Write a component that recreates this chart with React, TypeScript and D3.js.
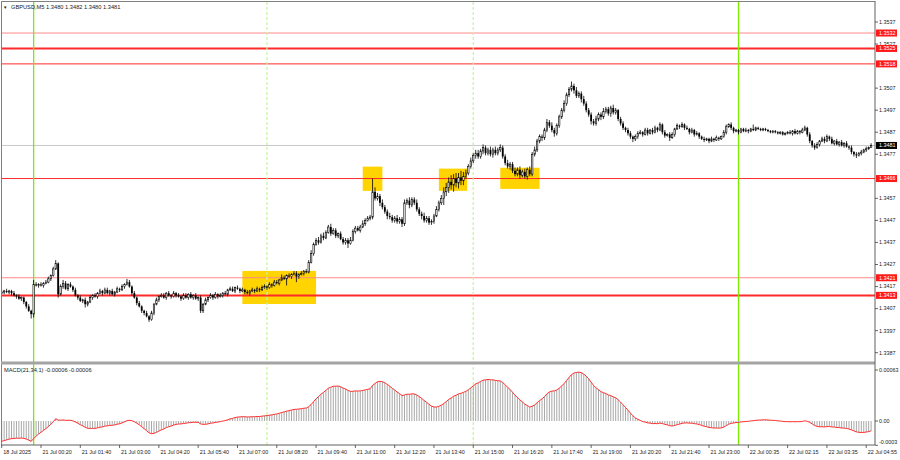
import React, { useEffect } from "react";
import * as d3 from "d3";

// GBPUSD M5 candles, values in pips above 1.3400
const BASE = 1.34;
const firstOpen = 14;
const closes = [
  14.5, 15, 14.5, 15, 14, 13, 12.5, 11.5, 12, 10,
  8, 6, 4.5, 18, 17.5, 18, 17.5, 18.5, 19, 20.5,
  22, 25, 27.5, 13.5, 17, 18.5, 16, 18, 17, 15.5,
  13, 12, 10.5, 11, 9, 10, 12, 13, 12.5, 14,
  15, 14, 15.5, 14, 15, 13.5, 14.5, 16, 15.5, 17,
  18, 19, 17, 14, 12, 9.5, 8, 6, 5, 3.5,
  2, 5, 9, 11, 12.5, 13, 12, 14, 13, 12.5,
  14, 13, 12.5, 11.5, 13, 12, 13.5, 12, 13, 11.5,
  12, 6, 9, 11, 12, 13, 12, 13.5, 12.5, 13,
  14, 13.5, 15.5, 16, 15, 16.5, 16, 15, 15.5, 14.5,
  14, 15, 15.5, 15, 16, 15.5, 16.5, 17, 16.5, 18,
  17.5, 19, 18.5, 20, 21, 20.5, 22, 21.5, 22.5, 23,
  21.5, 22.5, 23, 24, 23.5, 28, 32, 36, 38, 37,
  40, 39, 41.5, 44, 41, 42.5, 40, 41, 38.5, 37,
  38, 36.5, 38, 42, 43.5, 42.5, 44, 45.5, 47, 48,
  48.5, 60, 57, 58, 55, 53, 51, 49, 48.5, 47,
  48, 46.5, 47.5, 45.5, 55, 56, 54, 56.5, 55, 52,
  50, 49, 47, 48, 46, 46.5, 49, 52, 55, 57,
  60, 62, 64.5, 63, 66, 64, 66.5, 65, 67, 68.5,
  71.5, 74, 76.5, 77.5, 76, 78.5, 80, 77.5, 79, 77,
  79, 77.5, 79, 80, 76, 73, 71.5, 72.5, 69.5, 68,
  70, 67.5, 69, 67, 70, 68, 77, 79, 83, 85,
  84.5, 88, 91.5, 90, 88, 86.5, 90, 94, 97, 100,
  104, 106.5, 108, 106, 103.5, 104.5, 102, 100, 97, 95,
  92, 91, 93, 95, 94, 96.5, 97.5, 95.5, 98, 96,
  97, 93, 91, 89, 88, 86.5, 85, 84, 85, 86.5,
  87, 86, 88, 86.5, 88, 87, 89, 88, 90.5, 87,
  85.5, 86, 84.5, 86, 88.5, 90, 89.5, 90.5, 89, 88.5,
  87, 88, 86, 86.5, 85, 84, 83.5, 84, 83, 84,
  83.5, 84.5, 84, 85, 87, 89.5, 90.5, 89, 87.5, 88,
  87, 88.5, 87.5, 88, 87.5, 88.5, 88, 89, 88.5, 88,
  88.5, 88, 87.5, 87, 87.5, 87, 86.5, 87, 86, 86.5,
  87, 86.5, 87.5, 86.5, 87.5, 87, 88, 89, 86, 83,
  81, 80, 81.5, 83, 84, 83, 85, 84, 82, 83,
  81.5, 82.5, 81, 82, 80.5, 80, 78, 77, 76.5, 77.5,
  78, 79, 79.5, 80, 81,
];
const upWick = [
  1, 0.5, 1, 0.5, 0.5, 1, 0.5, 1, 0.5, 0.5,
  0.5, 1, 0.5, 2, 1, 0.5, 1, 0.5, 1, 1,
  0.5, 1, 1.5, 0.5, 1, 1.5, 1, 0.5, 1, 0.5,
  1, 0.5, 1, 0.5, 1, 0.5, 1, 0.5, 1, 0.5,
  1, 0.5, 1, 1, 0.5, 1, 0.5, 1, 0.5, 1,
  0.5, 1.5, 1, 0.5, 1, 0.5, 1, 0.5, 0.5, 1,
  0.5, 1, 0.5, 1, 0.5, 1, 1, 0.5, 1, 0.5,
  1, 0.5, 1, 0.5, 1, 1, 0.5, 1, 0.5, 1,
  0.5, 1, 0.5, 1, 0.5, 1, 0.5, 1, 0.5, 1,
  0.5, 1, 0.5, 1, 1, 0.5, 1, 0.5, 1, 0.5,
  1, 0.5, 1, 0.5, 1, 0.5, 1, 1, 0.5, 1,
  0.5, 1, 1, 0.5, 1.5, 1, 0.5, 1, 0.5, 1,
  1, 0.5, 1, 0.5, 1, 1, 1.5, 1, 1, 1.5,
  1, 1.5, 1, 1, 1.5, 1, 1, 0.5, 1, 1,
  1, 1, 1.5, 1, 1, 1, 1, 1.5, 1, 1,
  1, 6, 2, 1.5, 1, 1.5, 1, 1, 1.5, 1,
  1, 1.5, 1, 1, 1.5, 1, 1.5, 1, 1, 1.5,
  1, 1, 1.5, 1, 1, 1, 1, 1.5, 1, 1.5,
  2, 2, 2, 3, 2, 2.5, 2, 3, 2, 1.5,
  1, 1.5, 1, 1.5, 1.5, 1, 1.5, 1, 1, 1.5,
  1, 1.5, 1, 1.5, 1, 1, 1.5, 1, 1, 1.5,
  1, 1.5, 1, 1.5, 1, 1.5, 1, 1.5, 1, 1,
  1, 1, 1.5, 1, 1.5, 1, 1, 1, 1, 1.5,
  1, 1, 2, 1, 1.5, 1, 1, 1.5, 1, 1,
  1, 1, 1.5, 1, 1, 1.5, 1, 1, 1, 1.5,
  1, 0.5, 1, 1, 0.5, 1, 1, 0.5, 1, 1,
  1, 0.5, 1, 1, 0.5, 1, 1, 0.5, 1, 0.5,
  1, 0.5, 1, 1, 0.5, 1, 0.5, 1, 0.5, 1,
  0.5, 1, 0.5, 1, 0.5, 0.5, 1, 0.5, 0.5, 1,
  0.5, 1, 0.5, 0.5, 1, 1, 0.5, 1, 0.5, 0.5,
  0.5, 0.5, 0.5, 1, 0.5, 0.5, 2, 0.5, 0.5, 0.5,
  0.5, 0.5, 0.5, 0.5, 0.5, 0.5, 0.5, 0.5, 0.5, 0.5,
  0.5, 1, 0.5, 1, 0.5, 0.5, 1, 1, 0.5, 1,
  0.5, 1, 1, 0.5, 1, 1, 1, 0.5, 1, 0.5,
  1, 0.5, 1, 0.5, 1, 0.5, 1, 0.5, 1, 0.5,
  1, 0.5, 1, 0.5, 1,
];
const dnWick = [
  0.5, 1, 0.5, 1, 1, 0.5, 1, 0.5, 1, 1,
  1, 0.5, 2, 1.5, 0.5, 1, 0.5, 1, 0.5, 0.5,
  1, 0.5, 0.5, 1.5, 0.5, 1, 0.5, 1, 0.5, 1,
  0.5, 1, 0.5, 1, 1.5, 1, 0.5, 1, 0.5, 1,
  0.5, 1, 0.5, 0.5, 1, 0.5, 1, 0.5, 1, 0.5,
  1, 0.5, 0.5, 1, 0.5, 1, 0.5, 1, 1, 0.5,
  1, 0.5, 1, 0.5, 1, 0.5, 0.5, 1, 0.5, 1,
  0.5, 1, 0.5, 1, 0.5, 0.5, 1, 0.5, 1, 0.5,
  1, 1, 1, 0.5, 1, 0.5, 1, 0.5, 1, 0.5,
  1, 0.5, 1, 0.5, 0.5, 1, 0.5, 1, 0.5, 1,
  0.5, 1, 0.5, 1, 0.5, 1, 0.5, 0.5, 1, 0.5,
  1, 0.5, 0.5, 1, 0.5, 0.5, 3, 0.5, 1, 0.5,
  2.5, 1, 0.5, 1, 0.5, 0.5, 0.5, 1, 0.5, 1,
  0.5, 1, 0.5, 0.5, 1, 0.5, 1, 1, 0.5, 1,
  1, 2, 0.5, 0.5, 1, 0.5, 1, 0.5, 1, 0.5,
  1, 1, 1, 1, 1.5, 1, 1, 1.5, 1, 1,
  1, 1, 1, 1.5, 1, 1, 1.5, 1, 1, 1,
  1, 1.5, 1, 1, 1, 1, 1, 0.5, 1, 1,
  3, 2, 2.5, 2, 3, 2, 2.5, 2, 2, 1,
  1, 1, 1, 1.5, 1, 1, 1.5, 1, 1, 1,
  1.5, 1, 1, 1, 1, 1, 1, 1.5, 1, 1,
  1, 1.5, 1, 1, 1.5, 1, 1, 1, 1, 1,
  1.5, 1, 1, 1, 1, 1.5, 1, 1, 1, 1,
  1, 1, 1, 1.5, 1, 1, 1.5, 1, 1, 1,
  1.5, 1, 1, 1, 1.5, 1, 1, 1, 1.5, 1,
  1, 1, 1, 1, 1, 1, 1, 1.5, 1, 1,
  0.5, 1, 0.5, 1, 0.5, 1, 0.5, 1, 0.5, 1,
  1, 0.5, 1.5, 0.5, 1, 0.5, 1, 0.5, 1, 0.5,
  1, 0.5, 1, 0.5, 1, 0.5, 1, 0.5, 1, 0.5,
  1, 0.5, 1, 0.5, 0.5, 1, 0.5, 1, 1, 0.5,
  1, 0.5, 0.5, 0.5, 1, 0.5, 0.5, 0.5, 0.5, 0.5,
  0.5, 0.5, 0.5, 0.5, 0.5, 0.5, 0.5, 0.5, 0.5, 0.5,
  0.5, 0.5, 1, 0.5, 0.5, 1, 0.5, 0.5, 1, 1,
  1, 1, 0.5, 1, 0.5, 1, 0.5, 1, 0.5, 1,
  0.5, 1, 0.5, 1, 0.5, 1, 1, 1, 1.2, 0.5,
  1, 0.5, 1, 0.5, 0,
];
// EMA state (pips above BASE) carried in from before the first visible bar
const emaSeed = { fast: 16.5, slow: 19.1 };

const priceTicks = [1.3537, 1.3527, 1.3507, 1.3497, 1.3487, 1.3477, 1.3457, 1.3447, 1.3437, 1.3427, 1.3417, 1.3407, 1.3397, 1.3387];
const levelPrices = [1.3532, 1.3525, 1.3518, 1.3466, 1.3421, 1.3413];
const bidPrice = 1.3481;
// [startBar, endBar, lowPrice, highPrice]
const zones = [
  [98, 128, 1.34091, 1.34241],
  [147, 155, 1.34604, 1.34714],
  [178, 189.5, 1.34604, 1.34705],
  [203, 219, 1.34613, 1.34709],
];
const daySeparators = [13, 300];
const sessionLines = [108, 192];
const timeTickBars = [0, 16, 32, 48, 64, 80, 96, 112, 128, 144, 160, 176, 192, 208, 224, 240, 256, 272, 288, 304, 320, 336, 352];
const timeTickLabels = [
  "18 Jul 2025", "21 Jul 00:20", "21 Jul 01:40", "21 Jul 03:00", "21 Jul 04:20", "21 Jul 05:40",
  "21 Jul 07:00", "21 Jul 08:20", "21 Jul 09:40", "21 Jul 11:00", "21 Jul 12:20", "21 Jul 13:40",
  "21 Jul 15:00", "21 Jul 16:20", "21 Jul 17:40", "21 Jul 19:00", "21 Jul 20:20", "21 Jul 21:40",
  "21 Jul 23:00", "22 Jul 00:35", "22 Jul 02:15", "22 Jul 03:35", "22 Jul 04:55",
];
const macdTicks = [0.00063, 0.0, -0.0003];
const macdTickLabels = ["0.00063", "0.00", "-0.0003"];

const FONT = "'Liberation Sans', Arial, sans-serif";
const AXIS_X = 875;
const MAIN_BOTTOM = 361.5;
const MACD_TOP = 364.5;
const MACD_BOTTOM = 445;

const App: React.FC = () => {
  useEffect(() => {
    document.body.style.margin = "0";
  }, []);

  const n = closes.length;
  const x = d3.scaleLinear().domain([0, n - 1]).range([1.7, 1.7 + (n - 1) * 2.456]);
  const y = d3.scaleLinear().domain([1.3387, 1.3537]).range([352.7, 22]);
  const my = d3.scaleLinear().domain([0, 0.00063]).range([421, 370]);

  const candles = closes.map((c, i) => {
    const o = i === 0 ? firstOpen : closes[i - 1];
    return {
      i,
      o: BASE + o / 1e4,
      c: BASE + c / 1e4,
      h: BASE + (Math.max(o, c) + upWick[i]) / 1e4,
      l: BASE + (Math.min(o, c) - dnWick[i]) / 1e4,
    };
  });

  const macd: number[] = [];
  let fast = BASE + emaSeed.fast / 1e4;
  let slow = BASE + emaSeed.slow / 1e4;
  closes.forEach((c) => {
    const p = BASE + c / 1e4;
    fast += (p - fast) * (2 / 22);
    slow += (p - slow) * (2 / 35);
    macd.push(fast - slow);
  });

  const macdLine = d3
    .line<number>()
    .x((_, i) => x(i))
    .y((d) => my(d));

  const levelWidth = (p: number) => (p === 1.3525 || p === 1.3413 ? 2 : 1);
  const levelColor = (p: number) => (p === 1.3532 || p === 1.3421 ? "#ff8a8a" : "#ff2a2a");

  return (
    <svg
      width={900}
      height={460}
      style={{ position: "absolute", left: 0, top: 0, background: "#fff", fontFamily: FONT }}
    >
      <defs>
        <clipPath id="main">
          <rect x={2} y={2} width={AXIS_X - 2} height={MAIN_BOTTOM - 2} />
        </clipPath>
        <clipPath id="sub">
          <rect x={2} y={MACD_TOP} width={AXIS_X - 2} height={MACD_BOTTOM - MACD_TOP} />
        </clipPath>
      </defs>

      <g clipPath="url(#main)">
        {zones.map((z, k) => (
          <rect
            key={k}
            x={x(z[0])}
            y={y(z[3])}
            width={x(z[1]) - x(z[0])}
            height={y(z[2]) - y(z[3])}
            fill="#ffd400"
          />
        ))}
        <line x1={0} x2={AXIS_X} y1={y(bidPrice)} y2={y(bidPrice)} stroke="#c8c8c8" strokeWidth={1} />
        {levelPrices.map((p) => (
          <line
            key={p}
            x1={0}
            x2={AXIS_X}
            y1={y(p)}
            y2={y(p)}
            stroke={levelColor(p)}
            strokeWidth={levelWidth(p)}
          />
        ))}
      </g>

      {sessionLines.map((b) => (
        <line key={b} x1={x(b)} x2={x(b)} y1={2} y2={MACD_BOTTOM} stroke="#c6f59a" strokeWidth={1.2} strokeDasharray="3,2" />
      ))}
      {daySeparators.map((b) => (
        <line key={b} x1={x(b)} x2={x(b)} y1={2} y2={MACD_BOTTOM} stroke="#7cec00" strokeWidth={1.3} />
      ))}

      <g clipPath="url(#main)">
        {candles.map((d) => {
          const up = d.c >= d.o;
          const top = y(Math.max(d.o, d.c));
          const h = Math.max(0.8, y(Math.min(d.o, d.c)) - top);
          return (
            <g key={d.i}>
              <line x1={x(d.i)} x2={x(d.i)} y1={y(d.h)} y2={y(d.l)} stroke="#000" strokeWidth={0.8} />
              {up ? (
                <rect x={x(d.i) - 0.7} y={top} width={1.4} height={h} fill="#fff" stroke="#000" strokeWidth={0.6} />
              ) : (
                <rect x={x(d.i) - 0.9} y={top} width={1.8} height={h} fill="#000" />
              )}
            </g>
          );
        })}
      </g>

      {/* MACD window */}
      <g clipPath="url(#sub)">
        {macd.map((v, i) => (
          <line key={i} x1={x(i)} x2={x(i)} y1={my(0)} y2={my(v)} stroke="#a8a8a8" strokeWidth={1} />
        ))}
        <path d={macdLine(macd) || ""} fill="none" stroke="#ff3030" strokeWidth={1} />
      </g>

      {/* frames */}
      <line x1={1.5} x2={1.5} y1={1} y2={MACD_BOTTOM} stroke="#808080" strokeWidth={1} />
      <line x1={1} x2={AXIS_X} y1={1.5} y2={1.5} stroke="#808080" strokeWidth={1} />
      <rect x={1} y={MAIN_BOTTOM} width={AXIS_X - 1} height={MACD_TOP - MAIN_BOTTOM} fill="#a4a4a4" />
      <line x1={AXIS_X} x2={AXIS_X} y1={1} y2={MACD_BOTTOM} stroke="#606060" strokeWidth={1} />
      <line x1={1} x2={AXIS_X} y1={MACD_BOTTOM} y2={MACD_BOTTOM} stroke="#606060" strokeWidth={1} />

      {/* price axis */}
      {priceTicks.map((p) => (
        <g key={p}>
          <line x1={AXIS_X} x2={AXIS_X + 3} y1={y(p)} y2={y(p)} stroke="#404040" strokeWidth={0.8} />
          <text x={AXIS_X + 4} y={y(p)} dy="0.35em" fontSize={5.4} fill="#202020">
            {p.toFixed(4)}
          </text>
        </g>
      ))}
      {levelPrices.map((p) => (
        <g key={p}>
          <rect x={AXIS_X + 1} y={y(p) - 3.5} width={21} height={7} fill="#ff1a1a" />
          <text x={AXIS_X + 4} y={y(p)} dy="0.35em" fontSize={5.4} fill="#fff">
            {p.toFixed(4)}
          </text>
        </g>
      ))}
      <rect x={AXIS_X + 1} y={y(bidPrice) - 3.5} width={21} height={7} fill="#000" />
      <text x={AXIS_X + 4} y={y(bidPrice)} dy="0.35em" fontSize={5.4} fill="#fff">
        {bidPrice.toFixed(4)}
      </text>

      {/* MACD axis */}
      {macdTicks.map((v, k) => (
        <g key={k}>
          <line x1={AXIS_X} x2={AXIS_X + 3} y1={my(v)} y2={my(v)} stroke="#404040" strokeWidth={0.8} />
          <text x={AXIS_X + 4} y={Math.min(my(v), 442)} dy="0.35em" fontSize={5.4} fill="#202020">
            {macdTickLabels[k]}
          </text>
        </g>
      ))}

      {/* time axis */}
      {timeTickBars.map((b, k) => (
        <g key={b}>
          <line x1={x(b)} x2={x(b)} y1={MACD_BOTTOM} y2={MACD_BOTTOM + 3} stroke="#404040" strokeWidth={0.8} />
          <text x={x(b) + 1.5} y={452} dy="0.35em" fontSize={5.4} fill="#202020">
            {timeTickLabels[k]}
          </text>
        </g>
      ))}

      <text x={3} y={7} dy="0.35em" fontSize={4.5} fill="#202020">▼</text>
      <text x={11} y={7} dy="0.35em" fontSize={5.7} fill="#202020">
        GBPUSD,M5  1.3480 1.3482 1.3480 1.3481
      </text>
      <text x={4} y={370.5} dy="0.35em" fontSize={5.7} fill="#202020">
        MACD(21,34,1) -0.00006 -0.00006
      </text>
    </svg>
  );
};

export default App;
